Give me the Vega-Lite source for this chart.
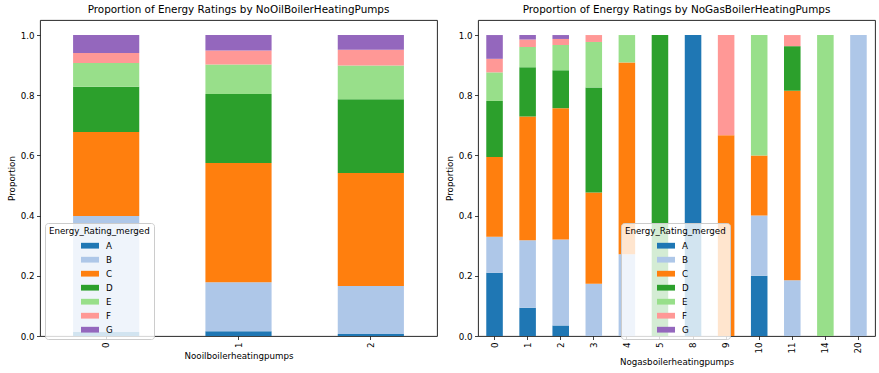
{
  "$schema": "https://vega.github.io/schema/vega-lite/v6.json",
  "padding": {"left": 6, "top": 4, "right": 5, "bottom": 4},
  "background": "white",
  "datasets": {
    "oil": [
      {"pumps": 0, "rating": "A", "value": 0.013},
      {"pumps": 0, "rating": "B", "value": 0.386},
      {"pumps": 0, "rating": "C", "value": 0.279},
      {"pumps": 0, "rating": "D", "value": 0.150},
      {"pumps": 0, "rating": "E", "value": 0.079},
      {"pumps": 0, "rating": "F", "value": 0.033},
      {"pumps": 0, "rating": "G", "value": 0.060},
      {"pumps": 1, "rating": "A", "value": 0.016},
      {"pumps": 1, "rating": "B", "value": 0.163},
      {"pumps": 1, "rating": "C", "value": 0.396},
      {"pumps": 1, "rating": "D", "value": 0.229},
      {"pumps": 1, "rating": "E", "value": 0.098},
      {"pumps": 1, "rating": "F", "value": 0.047},
      {"pumps": 1, "rating": "G", "value": 0.051},
      {"pumps": 2, "rating": "A", "value": 0.007},
      {"pumps": 2, "rating": "B", "value": 0.159},
      {"pumps": 2, "rating": "C", "value": 0.376},
      {"pumps": 2, "rating": "D", "value": 0.245},
      {"pumps": 2, "rating": "E", "value": 0.112},
      {"pumps": 2, "rating": "F", "value": 0.052},
      {"pumps": 2, "rating": "G", "value": 0.049}
    ],
    "gas": [
      {"pumps": 0, "rating": "A", "value": 0.210},
      {"pumps": 0, "rating": "B", "value": 0.120},
      {"pumps": 0, "rating": "C", "value": 0.265},
      {"pumps": 0, "rating": "D", "value": 0.186},
      {"pumps": 0, "rating": "E", "value": 0.095},
      {"pumps": 0, "rating": "F", "value": 0.045},
      {"pumps": 0, "rating": "G", "value": 0.079},
      {"pumps": 1, "rating": "A", "value": 0.094},
      {"pumps": 1, "rating": "B", "value": 0.224},
      {"pumps": 1, "rating": "C", "value": 0.411},
      {"pumps": 1, "rating": "D", "value": 0.164},
      {"pumps": 1, "rating": "E", "value": 0.067},
      {"pumps": 1, "rating": "F", "value": 0.025},
      {"pumps": 1, "rating": "G", "value": 0.015},
      {"pumps": 2, "rating": "A", "value": 0.035},
      {"pumps": 2, "rating": "B", "value": 0.286},
      {"pumps": 2, "rating": "C", "value": 0.436},
      {"pumps": 2, "rating": "D", "value": 0.126},
      {"pumps": 2, "rating": "E", "value": 0.084},
      {"pumps": 2, "rating": "F", "value": 0.020},
      {"pumps": 2, "rating": "G", "value": 0.013},
      {"pumps": 3, "rating": "B", "value": 0.174},
      {"pumps": 3, "rating": "C", "value": 0.303},
      {"pumps": 3, "rating": "D", "value": 0.349},
      {"pumps": 3, "rating": "E", "value": 0.151},
      {"pumps": 3, "rating": "F", "value": 0.023},
      {"pumps": 4, "rating": "B", "value": 0.272},
      {"pumps": 4, "rating": "C", "value": 0.637},
      {"pumps": 4, "rating": "E", "value": 0.091},
      {"pumps": 5, "rating": "D", "value": 1.0},
      {"pumps": 8, "rating": "A", "value": 1.0},
      {"pumps": 9, "rating": "C", "value": 0.667},
      {"pumps": 9, "rating": "F", "value": 0.333},
      {"pumps": 10, "rating": "A", "value": 0.2},
      {"pumps": 10, "rating": "B", "value": 0.2},
      {"pumps": 10, "rating": "C", "value": 0.2},
      {"pumps": 10, "rating": "E", "value": 0.4},
      {"pumps": 11, "rating": "B", "value": 0.185},
      {"pumps": 11, "rating": "C", "value": 0.630},
      {"pumps": 11, "rating": "D", "value": 0.148},
      {"pumps": 11, "rating": "F", "value": 0.037},
      {"pumps": 14, "rating": "E", "value": 1.0},
      {"pumps": 20, "rating": "B", "value": 1.0}
    ]
  },
  "config": {
    "font": "DejaVu Sans",
    "view": {"stroke": "#111", "strokeWidth": 0.9},
    "axis": {
      "grid": false,
      "domain": false,
      "ticks": true,
      "tickColor": "#111",
      "tickSize": 3.5,
      "tickWidth": 0.8,
      "labelFont": "DejaVu Sans",
      "labelFontSize": 8.7,
      "labelColor": "#000",
      "labelPadding": 2.5,
      "titleFont": "DejaVu Sans",
      "titleFontSize": 8.7,
      "titleFontWeight": "normal",
      "titleColor": "#000"
    },
    "title": {"font": "DejaVu Sans", "fontSize": 10.4, "fontWeight": "normal", "color": "#000", "offset": 5},
    "legend": {
      "orient": "none",
      "fillColor": "rgba(255,255,255,0.8)",
      "strokeColor": "#cccccc",
      "cornerRadius": 3,
      "padding": 4,
      "titleFont": "DejaVu Sans",
      "titleFontSize": 8.7,
      "titleFontWeight": "normal",
      "titleColor": "#000",
      "titlePadding": 1,
      "labelFont": "DejaVu Sans",
      "labelFontSize": 8.7,
      "labelColor": "#000",
      "labelOffset": 7,
      "symbolType": "M-1,-0.32H1V0.32H-1Z",
      "symbolSize": 324,
      "symbolStrokeWidth": 0,
      "symbolOpacity": 1,
      "symbolOffset": 32,
      "rowPadding": -2.5
    }
  },
  "hconcat": [
    {
      "width": 397,
      "height": 316,
      "title": "Proportion of Energy Ratings by NoOilBoilerHeatingPumps",
      "data": {"name": "oil"},
      "mark": {"type": "bar"},
      "encoding": {
        "x": {"field": "pumps", "type": "ordinal", "title": "Nooilboilerheatingpumps",
              "scale": {"paddingInner": 0.5, "paddingOuter": 0.25},
              "axis": {"labelAngle": 270}},
        "y": {"field": "value", "type": "quantitative", "stack": "zero", "title": "Proportion",
              "scale": {"domain": [0, 1.05], "nice": false},
              "axis": {"values": [0, 0.2, 0.4, 0.6, 0.8, 1.0], "format": ".1f"}},
        "color": {"field": "rating", "type": "nominal",
                  "scale": {"domain": ["A","B","C","D","E","F","G"], "range": ["#1f77b4","#aec7e8","#ff7f0e","#2ca02c","#98df8a","#ff9896","#9467bd"]},
                  "legend": {"title": "Energy_Rating_merged", "legendX": 5, "legendY": 203}},
        "order": {"field": "rating", "sort": "ascending"}
      }
    },
    {
      "width": 397,
      "height": 316,
      "title": "Proportion of Energy Ratings by NoGasBoilerHeatingPumps",
      "data": {"name": "gas"},
      "mark": {"type": "bar"},
      "encoding": {
        "x": {"field": "pumps", "type": "ordinal", "title": "Nogasboilerheatingpumps",
              "scale": {"paddingInner": 0.5, "paddingOuter": 0.25},
              "axis": {"labelAngle": 270}},
        "y": {"field": "value", "type": "quantitative", "stack": "zero", "title": "Proportion",
              "scale": {"domain": [0, 1.05], "nice": false},
              "axis": {"values": [0, 0.2, 0.4, 0.6, 0.8, 1.0], "format": ".1f"}},
        "color": {"field": "rating", "type": "nominal",
                  "scale": {"domain": ["A","B","C","D","E","F","G"], "range": ["#1f77b4","#aec7e8","#ff7f0e","#2ca02c","#98df8a","#ff9896","#9467bd"]},
                  "legend": {"title": "Energy_Rating_merged", "legendX": 143, "legendY": 203}},
        "order": {"field": "rating", "sort": "ascending"}
      }
    }
  ],
  "spacing": 41,
  "bounds": "flush",
  "resolve": {"scale": {"color": "independent", "y": "independent", "x": "independent"}, "legend": {"color": "independent"}}
}
